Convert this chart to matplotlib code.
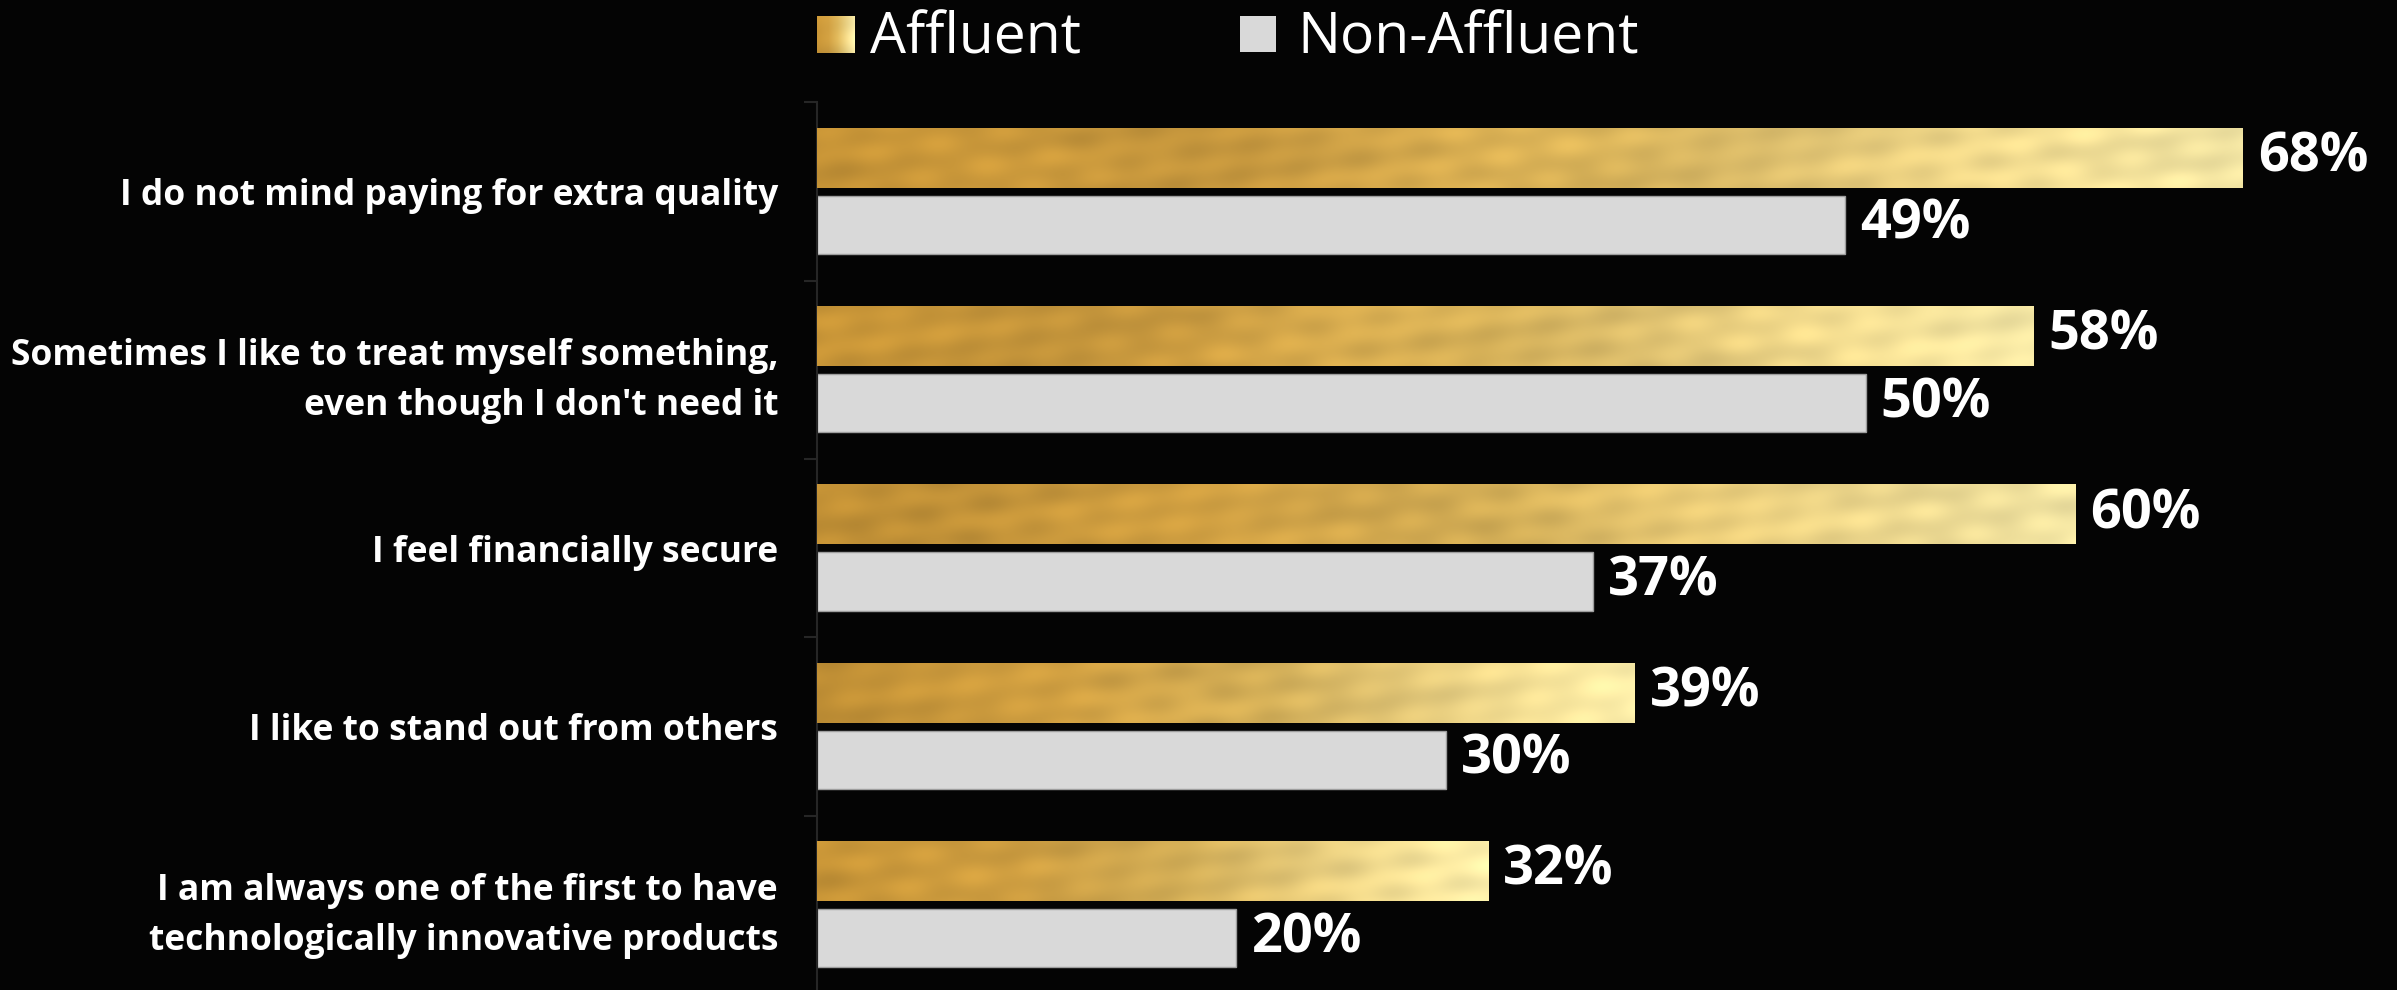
import numpy as np
import matplotlib
matplotlib.use("Agg")
import matplotlib.pyplot as plt
from matplotlib.patches import Rectangle

# ---------------- data ----------------
categories = [
    "I do not mind paying for extra quality",
    "Sometimes I like to treat myself something,\neven though I don't need it",
    "I feel financially secure",
    "I like to stand out from others",
    "I am always one of the first to have\ntechnologically innovative products",
]
series_names = ["Affluent", "Non-Affluent"]
affluent = [68, 58, 60, 39, 32]
non_affluent = [49, 50, 37, 30, 20]

# ---------------- style ----------------
BG = "#040404"
GRAY = "#D9D9D9"
AXIS_C = "#262626"
W, H = 2397, 990

plt.rcParams["font.family"] = ["Open Sans", "DejaVu Sans"]


def gold_texture(width, height, seed_phase=0.0):
    """Deterministic gold-leaf looking texture (gradient + smooth streaks)."""
    X, Y = np.meshgrid(np.arange(width, dtype=float), np.arange(height, dtype=float))
    t = X / max(X.max(), 1)
    stops_t = [0.0, 0.3, 0.55, 0.8, 1.0]
    stops_c = np.array([[196, 146, 54], [204, 156, 64], [218, 180, 90],
                        [236, 212, 135], [250, 236, 168]], float)
    base = np.stack([np.interp(t, stops_t, stops_c[:, k]) for k in range(3)], axis=-1)
    p = seed_phase
    n = (0.45 * np.sin(0.012 * X + 0.9 * np.sin(0.10 * Y + 0.004 * X + p) + p)
         + 0.30 * np.sin(0.029 * X + 0.21 * Y + 1.3 + 2 * p)
         + 0.25 * np.sin(0.065 * X - 0.14 * Y + 2.1 + p) * np.sin(0.006 * X + 0.5 + p)
         + 0.20 * np.sin(0.11 * X + 0.05 * Y + 3 * p))
    shade = 1.0 + 0.075 * n
    img = np.clip(base * shade[..., None], 0, 255) / 255.0
    return img


fig = plt.figure(figsize=(W / 100, H / 100), dpi=100, facecolor=BG)
ax_left = 817 / W
ax_top = 1 - 102.3 / H
ax_bottom = -4 / H
ax = fig.add_axes([ax_left, ax_bottom, 1 - ax_left, ax_top - ax_bottom])
ax.set_facecolor(BG)

px_per_pct = 20.97
ax.set_xlim(0, (W - 817) / px_per_pct)
ax.set_ylim(len(categories) - 0.5, -0.5)

y = np.arange(len(categories))
gold_off, gold_h = -0.19, 0.336
gray_off, gray_h = 0.187, 0.327

gold_bars = ax.barh(y + gold_off, affluent, height=gold_h, color="#D4AE5A", linewidth=0, zorder=2)
gray_bars = ax.barh(y + gray_off, non_affluent, height=gray_h, color=GRAY,
                    edgecolor="#9E9E9E", linewidth=1.0, zorder=2)

for i, (patch, v) in enumerate(zip(gold_bars.patches, affluent)):
    w_px = int(v * px_per_pct)
    tex = gold_texture(w_px, 60, seed_phase=1.7 * i)
    y0 = patch.get_y()
    h = patch.get_height()
    im = ax.imshow(tex, extent=(0, v, y0 + h, y0), aspect="auto",
                   interpolation="bilinear", zorder=3)
    im.set_clip_path(patch)

# value labels
for bars, vals in ((gold_bars, affluent), (gray_bars, non_affluent)):
    for patch, v in zip(bars.patches, vals):
        ax.annotate(f"{v}%", xy=(v, patch.get_y() + patch.get_height() / 2),
                    xytext=(11, 0), textcoords="offset points",
                    ha="left", va="center", color="white", fontsize=39,
                    fontweight="bold", zorder=5)

# axes styling
for s in ("top", "right", "bottom"):
    ax.spines[s].set_visible(False)
ax.spines["left"].set_color(AXIS_C)
ax.spines["left"].set_linewidth(1.5)
ax.set_xticks([])
ax.set_yticks(y)
ax.set_yticklabels(categories, color="white", fontsize=25.5, fontweight="bold",
                   ha="right", multialignment="right", linespacing=1.5)
ax.tick_params(axis="y", which="major", length=0, pad=28)
ax.set_yticks(np.arange(-0.5, len(categories)), minor=True)
ax.tick_params(axis="y", which="minor", length=9.4, width=1.5, color=AXIS_C, direction="out")

# legend (manual)
leg_ax = fig.add_axes([817 / W, 1 - 53 / H, 38 / W, 37 / H])
leg_ax.imshow(gold_texture(38, 37, seed_phase=0.4), aspect="auto",
              interpolation="bilinear")
leg_ax.axis("off")
fig.patches.append(Rectangle((1240 / W, 1 - 52 / H), 36 / W, 36 / H,
                             transform=fig.transFigure, facecolor=GRAY, edgecolor="none"))
fig.text(870 / W, 1 - 53 / H, series_names[0], color="white", fontsize=41,
         va="baseline", ha="left")
fig.text(1297 / W, 1 - 53 / H, series_names[1], color="white", fontsize=41,
         va="baseline", ha="left")

fig.savefig("out.png", dpi=100, facecolor=BG)
